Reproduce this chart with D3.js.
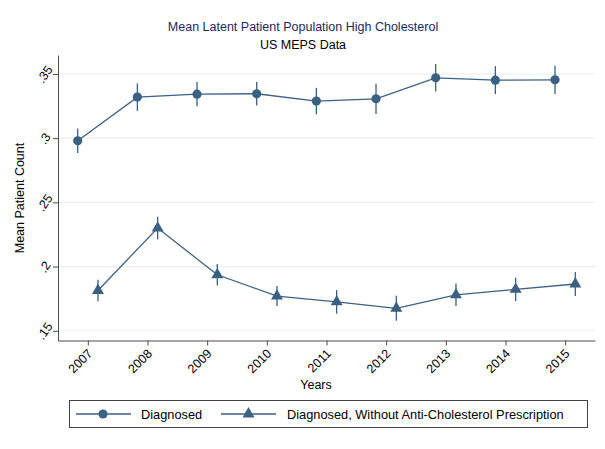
<!DOCTYPE html>
<html>
<head>
<meta charset="utf-8">
<script src="https://cdn.jsdelivr.net/npm/d3@7"></script>
<style>
  html, body { margin: 0; padding: 0; background: #fff; }
  svg { display: block; font-family: "Liberation Sans", Arial, Helvetica, sans-serif; }
</style>
</head>
<body>
<svg id="chart" width="605" height="449"></svg>
<script>
// Survey years on the x axis
const years = [2007, 2008, 2009, 2010, 2011, 2012, 2013, 2014, 2015];

// Mean latent patient count, all diagnosed, with CI half-widths
const diagnosedMean = [0.298, 0.332, 0.3343, 0.3346, 0.3289, 0.3307, 0.347, 0.3452, 0.3455];
const diagnosedErr  = [0.0095, 0.0107, 0.0095, 0.0091, 0.0103, 0.0118, 0.0107, 0.0109, 0.0110];

// Diagnosed without an anti-cholesterol prescription, with CI half-widths
const noRxMean = [0.1814, 0.230, 0.1936, 0.177, 0.1725, 0.1675, 0.178, 0.1822, 0.1864];
const noRxErr  = [0.0084, 0.0088, 0.0083, 0.0078, 0.0092, 0.0097, 0.0088, 0.0091, 0.0093];

const yTicks = [0.15, 0.2, 0.25, 0.3, 0.35];
const yTickLabels = [".15", ".2", ".25", ".3", ".35"];

const seriesNames = ["Diagnosed", "Diagnosed, Without Anti-Cholesterol Prescription"];

const color = "#3b6182";
const gridColor = "#e9eff3";
const axisColor = "#4d4d4d";

const svg = d3.select("#chart");

const x = d3.scaleLinear().domain([2006.5, 2015.5]).range([58, 595]);
const y = d3.scaleLinear().domain([0.1424, 0.3648]).range([340.5, 55]);
const dodge = 0.17;

// Titles
svg.append("text").attr("x", 303).attr("y", 31).attr("text-anchor", "middle")
  .attr("font-size", 12.5).attr("fill", "#1b2a5c")
  .text("Mean Latent Patient Population High Cholesterol");
svg.append("text").attr("x", 303).attr("y", 49).attr("text-anchor", "middle")
  .attr("font-size", 12.5).attr("fill", "#000")
  .text("US MEPS Data");

// Horizontal grid
svg.append("g").selectAll("line").data(yTicks).join("line")
  .attr("x1", 58).attr("x2", 595)
  .attr("y1", d => y(d)).attr("y2", d => y(d))
  .attr("stroke", gridColor).attr("stroke-width", 1.2);

// Y axis
const yAxis = svg.append("g").attr("transform", "translate(58,0)")
  .call(d3.axisLeft(y).tickValues(yTicks)
    .tickFormat((d, i) => yTickLabels[i]).tickSize(5).tickSizeOuter(0));
yAxis.select(".domain").attr("stroke", axisColor);
yAxis.selectAll(".tick line").attr("stroke", axisColor);
yAxis.selectAll(".tick text")
  .attr("font-family", "Liberation Sans, Arial, sans-serif")
  .attr("font-size", 12.5).attr("fill", "#000")
  .attr("text-anchor", "middle").attr("dy", null).attr("x", null)
  .attr("transform", "translate(-13,0) rotate(-55)")
  .attr("dominant-baseline", "central");

// X axis
const xAxis = svg.append("g").attr("transform", "translate(0,340.5)")
  .call(d3.axisBottom(x).tickValues(years).tickFormat(d3.format("d"))
    .tickSize(5).tickSizeOuter(0));
xAxis.select(".domain").attr("stroke", axisColor);
xAxis.selectAll(".tick line").attr("stroke", axisColor);
xAxis.selectAll(".tick text")
  .attr("font-family", "Liberation Sans, Arial, sans-serif")
  .attr("font-size", 12.5).attr("fill", "#000")
  .attr("text-anchor", "end").attr("y", null).attr("dy", null)
  .attr("transform", "translate(2,11) rotate(-45)")
  .attr("dominant-baseline", "central");

// Axis titles
svg.append("text").attr("transform", "translate(24,198) rotate(-90)")
  .attr("text-anchor", "middle").attr("font-size", 12.5).attr("fill", "#000")
  .text("Mean Patient Count");
svg.append("text").attr("x", 316).attr("y", 389).attr("text-anchor", "middle")
  .attr("font-size", 12.5).attr("fill", "#000").text("Years");

const line = d3.line().x(d => d[0]).y(d => d[1]);
const triangle = d3.symbol().type(d3.symbolTriangle).size(62);

function drawSeries(means, errs, shift, marker) {
  const pts = years.map((yr, i) => [x(yr + shift), y(means[i]), errs[i], means[i]]);
  const g = svg.append("g");
  g.append("path").attr("d", line(pts)).attr("fill", "none")
    .attr("stroke", color).attr("stroke-width", 1.3);
  g.selectAll("line.ci").data(pts).join("line").attr("class", "ci")
    .attr("x1", d => d[0]).attr("x2", d => d[0])
    .attr("y1", d => y(d[3] - d[2])).attr("y2", d => y(d[3] + d[2]))
    .attr("stroke", color).attr("stroke-width", 1.3);
  if (marker === "circle") {
    g.selectAll("circle").data(pts).join("circle")
      .attr("cx", d => d[0]).attr("cy", d => d[1]).attr("r", 4.6).attr("fill", color);
  } else {
    g.selectAll("path.m").data(pts).join("path").attr("class", "m")
      .attr("d", triangle).attr("transform", d => `translate(${d[0]},${d[1]})`)
      .attr("fill", color);
  }
}

drawSeries(diagnosedMean, diagnosedErr, -dodge, "circle");
drawSeries(noRxMean, noRxErr, dodge, "triangle");

// Legend
const lg = svg.append("g");
lg.append("rect").attr("x", 69.5).attr("y", 400.5).attr("width", 518).attr("height", 27)
  .attr("fill", "#fff").attr("stroke", "#444").attr("stroke-width", 1);
const ly = 414;
lg.append("line").attr("x1", 76).attr("x2", 131).attr("y1", ly).attr("y2", ly)
  .attr("stroke", color).attr("stroke-width", 1.3);
lg.append("circle").attr("cx", 103).attr("cy", ly).attr("r", 4.6).attr("fill", color);
lg.append("text").attr("x", 141).attr("y", ly).attr("dominant-baseline", "central")
  .attr("font-size", 12.8).attr("fill", "#000").text(seriesNames[0]);
lg.append("line").attr("x1", 221).attr("x2", 276).attr("y1", ly).attr("y2", ly)
  .attr("stroke", color).attr("stroke-width", 1.3);
lg.append("path").attr("d", triangle()).attr("transform", `translate(248.5,${ly})`)
  .attr("fill", color);
lg.append("text").attr("x", 287).attr("y", ly).attr("dominant-baseline", "central")
  .attr("font-size", 12.8).attr("fill", "#000").text(seriesNames[1]);
</script>
</body>
</html>
